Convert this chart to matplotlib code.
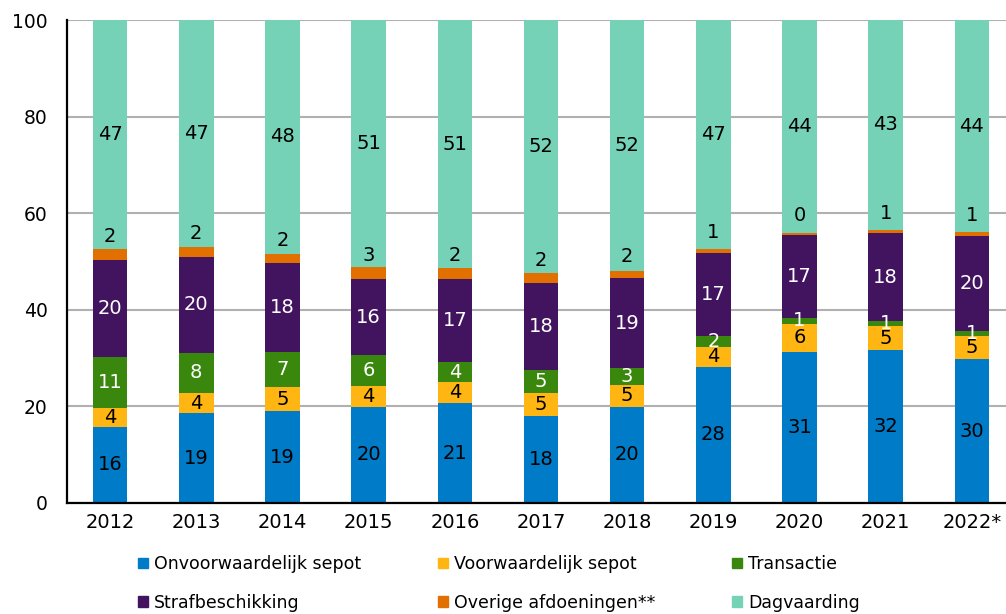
import matplotlib
matplotlib.use("Agg")
import matplotlib.pyplot as plt
from matplotlib.patches import Patch
import numpy as np

years = ["2012", "2013", "2014", "2015", "2016", "2017", "2018", "2019", "2020", "2021", "2022*"]

onvoorwaardelijk_sepot = [15.8, 18.6, 19.0, 19.9, 20.7, 18.1, 19.9, 28.2, 31.3, 31.6, 29.8]
voorwaardelijk_sepot   = [3.8, 4.2, 5.0, 4.4, 4.3, 4.7, 4.6, 4.2, 5.8, 5.0, 4.8]
transactie             = [10.6, 8.3, 7.2, 6.4, 4.2, 4.8, 3.4, 2.1, 1.3, 1.1, 1.0]
strafbeschikking       = [20.2, 19.9, 18.4, 15.6, 17.2, 17.9, 18.6, 17.3, 17.1, 18.1, 19.7]
overige_afdoeningen    = [2.2, 2.1, 2.0, 2.6, 2.2, 2.1, 1.6, 0.8, 0.4, 0.8, 0.8]
dagvaarding            = [47.4, 46.9, 48.4, 51.1, 51.4, 52.4, 51.9, 47.4, 44.1, 43.4, 43.9]

series_names = ["Onvoorwaardelijk sepot", "Voorwaardelijk sepot", "Transactie",
                "Strafbeschikking", "Overige afdoeningen**", "Dagvaarding"]
series = [onvoorwaardelijk_sepot, voorwaardelijk_sepot, transactie,
          strafbeschikking, overige_afdoeningen, dagvaarding]
colors = ["#007BC7", "#FFB612", "#39870C", "#42145F", "#E17000", "#76D2B6"]
text_colors = ["black", "black", "white", "white", "black", "black"]

fig = plt.figure(figsize=(10.06, 6.14), dpi=100)
ax = fig.add_axes([67/1006, 111/614, 948/1006, 483/614])

x = np.arange(len(years))
bottom = np.zeros(len(years))
for i, (name, vals, col) in enumerate(zip(series_names, series, colors)):
    vals = np.array(vals, dtype=float)
    ax.bar(x, vals, 0.40, bottom=bottom, color=col, label=name, zorder=3, linewidth=0)
    for xi, b, v in zip(x, bottom, vals):
        c = b + v / 2
        if i == 4:
            ax.annotate(f"{v:.0f}", (xi, c), xytext=(0, 13), textcoords="offset points",
                        ha="center", va="center", fontsize=14, color=text_colors[i], zorder=4)
        else:
            ax.text(xi, c, f"{v:.0f}", ha="center", va="center", fontsize=14,
                    color=text_colors[i], zorder=4)
    bottom += vals

ax.set_xlim(-0.5, len(years) - 0.5)
ax.set_ylim(0, 100)
ax.set_yticks([0, 20, 40, 60, 80, 100])
ax.set_xticks(x)
ax.set_xticklabels(years)
ax.tick_params(axis="y", length=0, pad=14, labelsize=13.5)
ax.tick_params(axis="x", length=0, pad=7, labelsize=14)
ax.grid(axis="y", color="#B0B0B0", linewidth=1.5, zorder=0)
for s in ["top", "right"]:
    ax.spines[s].set_visible(False)
for s in ["left", "bottom"]:
    ax.spines[s].set_color("black")
    ax.spines[s].set_linewidth(1.6)
    ax.spines[s].set_zorder(5)

handles = [Patch(color=c) for c in colors]
order = [0, 3, 1, 4, 2, 5]
leg = fig.legend([handles[k] for k in order], [series_names[k] for k in order],
                 ncol=3, loc="upper left", bbox_to_anchor=(138/1006, 1 - 555/614),
                 frameon=False, fontsize=12.5, handlelength=0.55, handleheight=0.55,
                 handletextpad=0.35, columnspacing=4.45, labelspacing=1.2,
                 borderpad=0, borderaxespad=0)

fig.savefig("out.png", dpi=100)
